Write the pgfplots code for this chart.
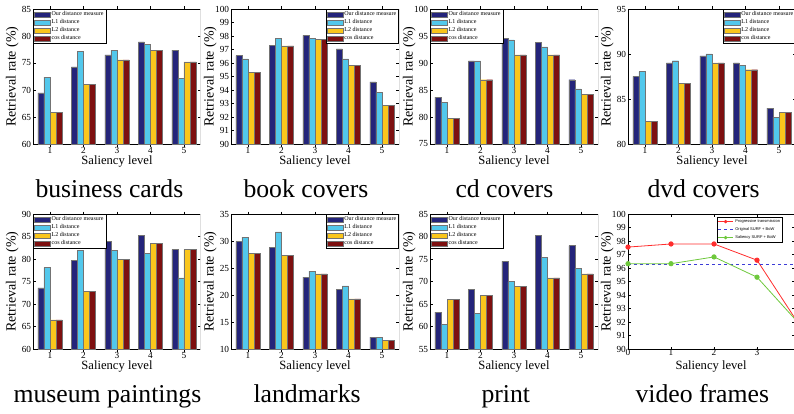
\documentclass[border=0pt]{standalone}
\usepackage{pgfplots}
\pgfplotsset{compat=1.18}
\usepackage{fontspec}
\setmainfont{Liberation Serif}
\newfontfamily\sansf{Liberation Sans}
\definecolor{cnavy}{RGB}{36,36,122}
\definecolor{ccyan}{RGB}{82,200,236}
\definecolor{cyel}{RGB}{250,198,28}
\definecolor{cdred}{RGB}{125,16,16}
\definecolor{vred}{RGB}{255,45,45}
\definecolor{vblue}{RGB}{60,60,215}
\definecolor{vgreen}{RGB}{110,200,60}
\pgfplotsset{
  common/.style={
    scale only axis, height=135pt,
    /pgf/number format/assume math mode=true,
    tick align=inside, xtick pos=both, ytick pos=both,
    major tick length=2.5pt,
    axis line style={line width=0.5pt, black},
    every tick/.style={black, line width=0.4pt},
    tick label style={font=\fontsize{9.3}{10}\selectfont},
    xticklabel style={inner sep=0.5pt},
    yticklabel style={inner sep=2pt},
    ylabel={Retrieval rate (\%)},
    xlabel={Saliency level},
    every axis y label/.style={at={(axis description cs:-0.125,0.5)}, anchor=center, rotate=90, font=\fontsize{14}{15}\selectfont},
    every axis x label/.style={at={(axis description cs:0.5,-0.152)}, anchor=base, inner sep=0.5pt, font=\fontsize{12.6}{13}\selectfont},
  },
  barleg/.style={legend image code/.code={\draw[##1] (0pt,-2.5pt) rectangle (15.5pt,2.5pt);}},
  barax/.style={common, width=167.5pt, xmin=0.5, xmax=5.5, xtick={1,2,3,4,5},
    ybar=0pt, bar width=6.1pt,
    legend style={font=\fontsize{6}{6}\selectfont, draw=black, line width=0.4pt,
      inner sep=1pt, nodes={inner sep=1.2pt}, row sep=0pt, cells={anchor=west}},
    legend cell align=left},
  legnw/.style={legend style={at={(0,1)}, anchor=north west}},
  legne/.style={legend style={at={(1,1)}, anchor=north east}},
  b1/.style={fill=cnavy, draw=black!55, line width=0.45pt, barleg},
  b2/.style={fill=ccyan, draw=black!55, line width=0.45pt, barleg},
  b3/.style={fill=cyel, draw=black!55, line width=0.45pt, barleg},
  b4/.style={fill=cdred, draw=black!55, line width=0.45pt, barleg},
}
\tikzset{captxt/.style={anchor=base west, font=\fontsize{25.7}{28}\selectfont}}
\begin{document}
\begin{tikzpicture}
\useasboundingbox (0pt,0pt) rectangle (794pt,413pt);
\begin{scope}
\clip (0pt,0pt) rectangle (794pt,413pt);
% ---------------- column 1
\begin{scope}
\clip (0pt,0pt) rectangle (200pt,413pt);
\begin{axis}[barax, legnw, at={(33.25pt,269pt)}, anchor=south west, ymin=60, ymax=85, ytick={60,65,...,85}]
\addplot[b1] coordinates {(1,69.45) (2,74.3) (3,76.5) (4,78.9) (5,77.4)};
\addplot[b2] coordinates {(1,72.4) (2,77.1) (3,77.4) (4,78.4) (5,72.2)};
\addplot[b3] coordinates {(1,65.8) (2,71.0) (3,75.6) (4,77.4) (5,75.2)};
\addplot[b4] coordinates {(1,65.8) (2,71.0) (3,75.6) (4,77.4) (5,75.2)};
\legend{Our distance measure, L1 distance, L2 distance, cos distance}
\end{axis}
\node[captxt] at (32pt,216pt) {business cards};
\begin{axis}[barax, legnw, at={(33.25pt,64pt)}, anchor=south west, ymin=60, ymax=90, ytick={60,65,...,90}]
\addplot[b1] coordinates {(1,73.6) (2,79.7) (3,84.0) (4,85.3) (5,82.1)};
\addplot[b2] coordinates {(1,78.1) (2,81.9) (3,81.9) (4,81.3) (5,75.8)};
\addplot[b3] coordinates {(1,66.5) (2,72.8) (3,80.0) (4,83.4) (5,82.1)};
\addplot[b4] coordinates {(1,66.5) (2,72.8) (3,80.0) (4,83.4) (5,82.1)};
\legend{Our distance measure, L1 distance, L2 distance, cos distance}
\end{axis}
\node[captxt] at (10pt,11pt) {museum paintings};
\end{scope}
% ---------------- column 2
\begin{scope}
\clip (200pt,0pt) rectangle (399pt,413pt);
\begin{axis}[barax, legne, at={(231.25pt,269pt)}, anchor=south west, ymin=90, ymax=100, ytick={90,91,...,100}]
\addplot[b1] coordinates {(1,96.54) (2,97.28) (3,98.05) (4,97.05) (5,94.6)};
\addplot[b2] coordinates {(1,96.3) (2,97.8) (3,97.8) (4,96.3) (5,93.85)};
\addplot[b3] coordinates {(1,95.3) (2,97.27) (3,97.77) (4,95.8) (5,92.85)};
\addplot[b4] coordinates {(1,95.3) (2,97.27) (3,97.77) (4,95.8) (5,92.85)};
\legend{Our distance measure, L1 distance, L2 distance, cos distance}
\end{axis}
\node[captxt] at (240pt,216pt) {book covers};
\begin{axis}[barax, legne, at={(231.25pt,64pt)}, anchor=south west, ymin=10, ymax=35, ytick={10,15,...,35}]
\addplot[b1] coordinates {(1,29.9) (2,28.8) (3,23.3) (4,21.0) (5,12.2)};
\addplot[b2] coordinates {(1,30.7) (2,31.7) (3,24.4) (4,21.7) (5,12.2)};
\addplot[b3] coordinates {(1,27.7) (2,27.3) (3,23.9) (4,19.3) (5,11.6)};
\addplot[b4] coordinates {(1,27.7) (2,27.3) (3,23.9) (4,19.3) (5,11.6)};
\legend{Our distance measure, L1 distance, L2 distance, cos distance}
\end{axis}
\node[captxt] at (250pt,11pt) {landmarks};
\end{scope}
% ---------------- column 3
\begin{scope}
\clip (399pt,0pt) rectangle (598pt,413pt);
\begin{axis}[barax, legnw, at={(430.25pt,269pt)}, anchor=south west, ymin=75, ymax=100, ytick={75,80,...,100}]
\addplot[b1] coordinates {(1,83.7) (2,90.4) (3,94.6) (4,93.8) (5,86.9)};
\addplot[b2] coordinates {(1,82.7) (2,90.4) (3,94.3) (4,93.0) (5,85.2)};
\addplot[b3] coordinates {(1,79.7) (2,86.9) (3,91.5) (4,91.5) (5,84.2)};
\addplot[b4] coordinates {(1,79.7) (2,86.9) (3,91.5) (4,91.5) (5,84.2)};
\legend{Our distance measure, L1 distance, L2 distance, cos distance}
\end{axis}
\node[captxt] at (452pt,216pt) {cd covers};
\begin{axis}[barax, legnw, at={(430.25pt,64pt)}, anchor=south west, ymin=55, ymax=85, ytick={55,60,...,85}]
\addplot[b1] coordinates {(1,63.2) (2,68.2) (3,74.5) (4,80.3) (5,78.0)};
\addplot[b2] coordinates {(1,60.4) (2,62.9) (3,70.0) (4,75.4) (5,73.0)};
\addplot[b3] coordinates {(1,66.0) (2,67.0) (3,69.0) (4,70.8) (5,71.7)};
\addplot[b4] coordinates {(1,66.0) (2,67.0) (3,69.0) (4,70.8) (5,71.7)};
\legend{Our distance measure, L1 distance, L2 distance, cos distance}
\end{axis}
\node[captxt] at (478pt,11pt) {print};
\end{scope}
% ---------------- column 4
\begin{scope}
\clip (598pt,0pt) rectangle (794pt,413pt);
\begin{axis}[barax, legne, at={(628.25pt,269pt)}, anchor=south west, ymin=80, ymax=95, ytick={80,85,90,95}]
\addplot[b1] coordinates {(1,87.5) (2,89.0) (3,89.8) (4,89.0) (5,84.0)};
\addplot[b2] coordinates {(1,88.05) (2,89.25) (3,90.0) (4,88.75) (5,83.0)};
\addplot[b3] coordinates {(1,82.5) (2,86.75) (3,89.0) (4,88.25) (5,83.5)};
\addplot[b4] coordinates {(1,82.5) (2,86.75) (3,89.0) (4,88.25) (5,83.5)};
\legend{Our distance measure, L1 distance, L2 distance, cos distance}
\end{axis}
\node[captxt] at (644pt,216pt) {dvd covers};
\begin{axis}[common, width=166pt, at={(628pt,64pt)}, anchor=south west,
  xmin=0, xmax=3.86, ymin=90, ymax=100, xtick={0,1,2,3,4}, ytick={90,91,...,100},
  legend style={at={(0.536,0.978)}, anchor=north west, font=\sansf\fontsize{4}{4}\selectfont,
    draw=black, line width=0.3pt, inner sep=0.5pt, nodes={inner sep=1.8pt}, cells={anchor=west}},
  legend cell align=left,
  legend image code/.code={\draw[mark repeat=2, mark phase=2, mark size=1.3pt, #1] plot coordinates {(0pt,0pt) (7.5pt,0pt) (15pt,0pt)};}]
\addplot[vred, mark=*, mark size=2.2pt, line width=0.8pt] coordinates {(0,97.55) (1,97.78) (2,97.78) (3,96.58) (4,91.7)};
\addplot[vblue, dashed, line width=0.9pt] coordinates {(0,96.28) (4,96.28)};
\addplot[vgreen, mark=*, mark size=2.2pt, line width=0.8pt] coordinates {(0,96.32) (1,96.32) (2,96.82) (3,95.32) (4,91.8)};
\legend{Progressive transmission, Original SURF + BoW, Saliency SURF + BoW}
\end{axis}
\node[captxt] at (632pt,11pt) {video frames};
\end{scope}
\end{scope}
\end{tikzpicture}
\end{document}
